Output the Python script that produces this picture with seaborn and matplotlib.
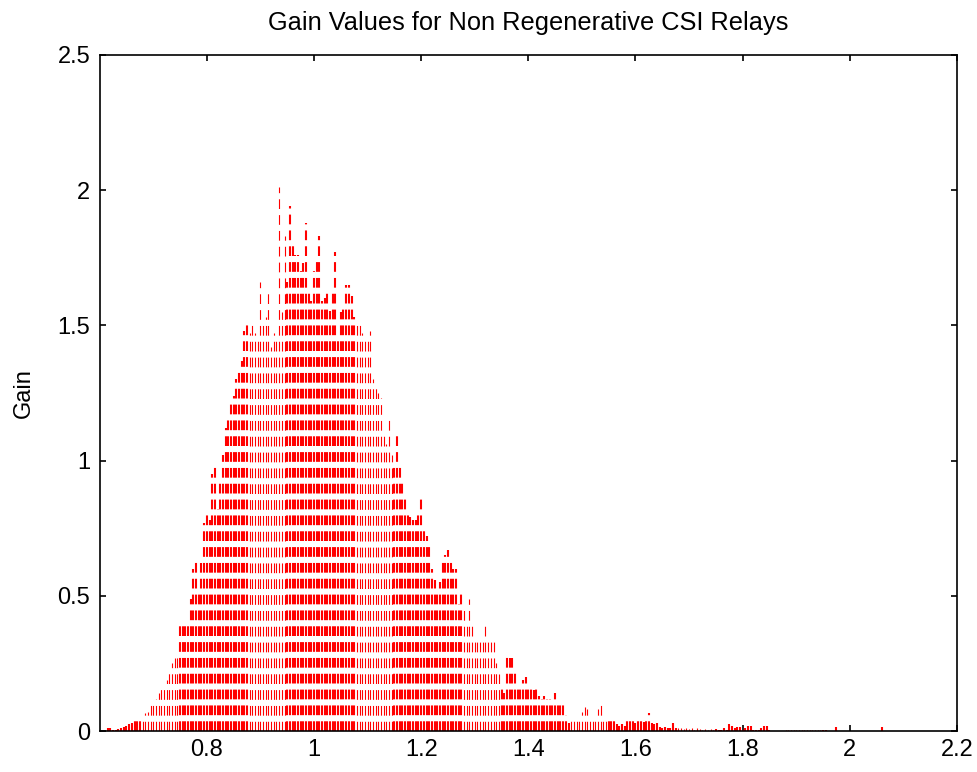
import numpy as np
import pandas as pd
import matplotlib
matplotlib.use("Agg")
import matplotlib.pyplot as plt
import seaborn as sns

# Gain samples: stems start at x0 and are spaced by dx
x0 = 0.615
dx = 0.005
gain = [
    0.010, 0.010, 0.005, 0.003, 0.008, 0.012, 0.015, 0.020, 0.025, 0.030,
    0.037, 0.040, 0.050, 0.055, 0.065, 0.070, 0.095, 0.110, 0.120, 0.140,
    0.160, 0.175, 0.190, 0.220, 0.250, 0.270, 0.290, 0.390, 0.390, 0.390,
    0.400, 0.490, 0.600, 0.630, 0.520, 0.620, 0.770, 0.815, 0.780, 0.950,
    0.980, 0.820, 0.930, 1.020, 1.120, 1.170, 1.220, 1.240, 1.300, 1.340,
    1.370, 1.480, 1.500, 1.470, 1.500, 1.470, 1.450, 1.660, 1.500, 1.530,
    1.640, 1.420, 1.470, 1.450, 2.010, 1.550, 1.830, 1.660, 1.940, 1.800,
    1.760, 1.760, 1.700, 1.730, 1.880, 1.620, 1.590, 1.700, 1.740, 1.830,
    1.590, 1.600, 1.640, 1.555, 1.620, 1.770, 1.460, 1.550, 1.580, 1.650,
    1.650, 1.610, 1.530, 1.520, 1.520, 1.470, 1.450, 1.460, 1.480, 1.300,
    1.270, 1.250, 1.230, 1.100, 1.060, 1.150, 1.020, 0.990, 1.100, 0.980,
    0.930, 0.860, 0.815, 0.790, 0.780, 0.780, 0.800, 0.870, 0.750, 0.720,
    0.685, 0.600, 0.560, 0.520, 0.550, 0.640, 0.650, 0.670, 0.630, 0.600,
    0.600, 0.470, 0.510, 0.450, 0.390, 0.490, 0.400, 0.340, 0.350, 0.350,
    0.350, 0.400, 0.340, 0.340, 0.330, 0.250, 0.210, 0.160, 0.140, 0.285,
    0.270, 0.270, 0.215, 0.170, 0.160, 0.190, 0.200, 0.170, 0.160, 0.150,
    0.160, 0.130, 0.120, 0.130, 0.120, 0.120, 0.110, 0.140, 0.110, 0.100,
    0.100, 0.060, 0.030, 0.055, 0.040, 0.040, 0.040, 0.070, 0.090, 0.080,
    0.050, 0.040, 0.055, 0.080, 0.100, 0.040, 0.040, 0.040, 0.045, 0.050,
    0.025, 0.020, 0.025, 0.020, 0.045, 0.050, 0.040, 0.030, 0.045, 0.050,
    0.035, 0.040, 0.065, 0.030, 0.025, 0.030, 0.015, 0.010, 0.015, 0.010,
    0.010, 0.030, 0.010, 0.010, 0.010, 0.008, 0.010, 0.008, 0.010, 0.005,
    0.010, 0.008, 0.005, 0.008, 0.005, 0.008, 0.005, 0.008, 0.005, 0.005,
    0.010, 0.005, 0.025, 0.020, 0.010, 0.015, 0.015, 0.005, 0.010, 0.020,
    0.020, 0.005, 0.005, 0.005, 0.010, 0.018, 0.018, 0.005, 0.000, 0.000,
    0.000, 0.000, 0.000, 0.004, 0.004, 0.004, 0.004, 0.004, 0.004, 0.004,
    0.004, 0.004, 0.004, 0.004, 0.004, 0.004, 0.004, 0.004, 0.004, 0.000,
    0.000, 0.000, 0.015, 0.000, 0.000, 0.000, 0.000, 0.000, 0.000, 0.000,
    0.000, 0.000, 0.000, 0.000, 0.000, 0.000, 0.000, 0.000, 0.000, 0.015,
]
x_ticks = [0.8, 1.0, 1.2, 1.4, 1.6, 1.8, 2.0, 2.2]
x_tick_labels = ["0.8", "1", "1.2", "1.4", "1.6", "1.8", "2", "2.2"]
y_ticks = [0, 0.5, 1, 1.5, 2, 2.5]
y_tick_labels = ["0", "0.5", "1", "1.5", "2", "2.5"]

df = pd.DataFrame({"x": x0 + dx * np.arange(len(gain)), "gain": gain})

sns.set_theme(style="white")
plt.rcParams["font.family"] = ["Liberation Sans", "DejaVu Sans"]
plt.rcParams["lines.scale_dashes"] = False
plt.rcParams["text.color"] = "black"
plt.rcParams["axes.labelcolor"] = "black"

fig = plt.figure(figsize=(9.78, 7.72), dpi=100)
ax = fig.add_axes([0.1022, 0.0531, 0.8763, 0.8757])

# stem widths alternate in 0.2-wide bands, giving the screen-raster banding
phase = np.mod(df["x"].to_numpy() - 0.75 + 1e-9, 0.2)
widths = np.where(phase < 0.13, 1.5, 0.8)

# dashed stems rising from the zero baseline
on, off = 7.0, 4.4
ax.vlines(df["x"], 0, df["gain"], colors="#ff0000", linewidths=widths,
          linestyles=[(0, (on, off))])

ax.set_xlim(0.6005, 2.2)
ax.set_ylim(0, 2.5)
ax.set_xticks(x_ticks)
ax.set_xticklabels(x_tick_labels)
ax.set_yticks(y_ticks)
ax.set_yticklabels(y_tick_labels)

ax.tick_params(axis="both", which="major", direction="in", length=4.5,
               width=1.2, colors="black", labelsize=17,
               top=True, right=True, bottom=True, left=True)
ax.tick_params(axis="x", pad=6)
ax.tick_params(axis="y", pad=7)
for s in ax.spines.values():
    s.set_visible(True)
    s.set_color("black")
    s.set_linewidth(1.2)

ax.set_title("Gain Values for Non Regenerative CSI Relays", fontsize=18.3,
             pad=18, color="black")
ax.set_ylabel("Gain", fontsize=17, labelpad=16, color="black")
ax.grid(False)

fig.savefig("out.png", dpi=100, facecolor="white")
